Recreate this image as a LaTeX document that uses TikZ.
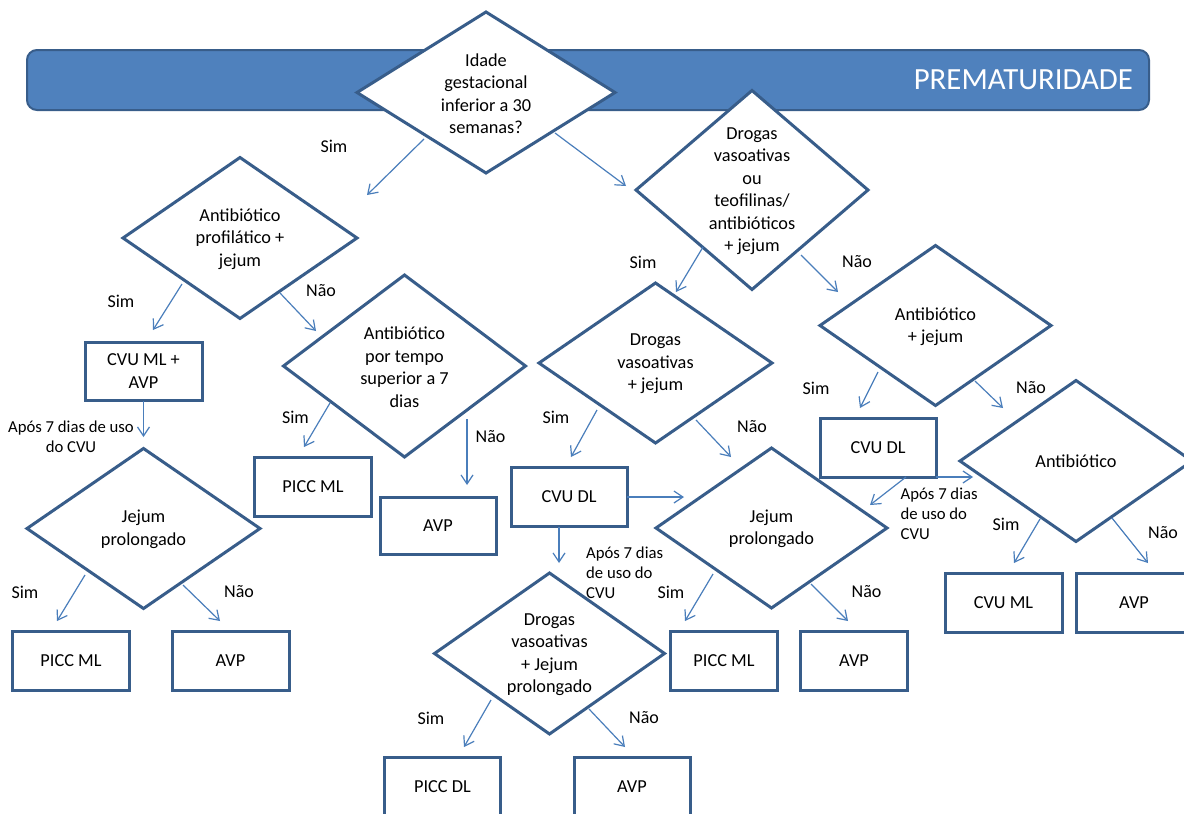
\documentclass[tikz,border=0pt]{standalone}
\usepackage{fontspec}
\setmainfont{Carlito}
\usetikzlibrary{shapes.geometric,arrows.meta}
\definecolor{bord}{HTML}{385D8A}
\definecolor{bann}{HTML}{4F81BD}
\definecolor{arrc}{HTML}{4A7EBB}
\tikzset{
  banner/.style={rectangle, draw=bord, line width=2pt, fill=bann, rounded corners=10pt, inner sep=0pt},
  dia/.style={diamond, draw=bord, line width=3pt, fill=white, inner sep=0pt, outer sep=0pt},
  boxn/.style={rectangle, draw=bord, line width=3pt, fill=white, inner sep=0pt, align=center, font=\fontsize{18.3}{22.5}\selectfont},
  txt/.style={align=center, inner sep=0pt, font=\fontsize{18.3}{22.5}\selectfont},
  lbl/.style={inner sep=0pt, font=\fontsize{18}{22}\selectfont},
  note/.style={inner sep=0pt, font=\fontsize{16.7}{20}\selectfont},
  arr/.style={draw=arrc, line width=1.2pt, -{Straight Barb[length=9pt,width=12pt]}},
}
\begin{document}
\begin{tikzpicture}[x=1pt,y=-1pt]
\useasboundingbox (0,0) rectangle (1184,814);
\clip (0,0) rectangle (1184,814);
\fill[white] (0,0) rectangle (1184,814);

% banner
\node[banner, minimum width=1122pt, minimum height=60pt] (ban) at (588,80) {};
\node[inner sep=0pt, anchor=east, text=white, font=\fontsize{30.8}{36}\selectfont] (title) at (1133,80) {PREMATURIDADE};

% diamonds
\node[dia, minimum width=258pt, minimum height=161pt] (d1) at (486,92.5) {};
\node[txt] (d1t) at ([yshift=-1pt]d1.center) {Idade\\gestacional\\inferior a 30\\semanas?};

\node[dia, minimum width=234pt, minimum height=161pt] (d2) at (240,238) {};
\node[txt] (d2t) at ([yshift=-1pt]d2.center) {Antibiótico\\profilático +\\jejum};

\node[dia, minimum width=233pt, minimum height=160pt] (d3) at (143.5,528.5) {};
\node[txt] (d3t) at ([yshift=-1pt]d3.center) {Jejum\\prolongado};

\node[dia, minimum width=242pt, minimum height=182pt] (d4) at (404.5,366) {};
\node[txt] (d4t) at ([yshift=-1pt]d4.center) {Antibiótico\\por tempo\\superior a 7\\dias};

\node[dia, minimum width=232pt, minimum height=199pt] (d5) at (752,190) {};
\node[txt] (d5t) at ([yshift=-1pt]d5.center) {Drogas\\vasoativas\\ou\\teofilinas/\\antibióticos\\+ jejum};

\node[dia, minimum width=231pt, minimum height=160pt] (d6) at (935.5,325.5) {};
\node[txt] (d6t) at ([yshift=-1pt]d6.center) {Antibiótico\\+ jejum};

\node[dia, minimum width=232pt, minimum height=161pt] (d7) at (1076,461) {};
\node[txt] (d7t) at (d7.center) {Antibiótico};

\node[dia, minimum width=233pt, minimum height=160pt] (d8) at (655.5,363) {};
\node[txt] (d8t) at ([yshift=-1pt]d8.center) {Drogas\\vasoativas\\+ jejum};

\node[dia, minimum width=231pt, minimum height=160pt] (d9) at (771.5,528) {};
\node[txt] (d9t) at ([yshift=-1pt]d9.center) {Jejum\\prolongado};

\node[dia, minimum width=230pt, minimum height=161pt] (d10) at (549.5,653.5) {};
\node[txt] (d10t) at ([yshift=-1pt]d10.center) {Drogas\\vasoativas\\+ Jejum\\prolongado};

% boxes
\node[boxn, minimum width=117pt, minimum height=58pt] (b1) at (143.5,371) {CVU ML +\\AVP};
\node[boxn, minimum width=117pt, minimum height=59pt] (b2) at (71,661) {PICC ML};
\node[boxn, minimum width=117pt, minimum height=59pt] (b3) at (230.5,661) {AVP};
\node[boxn, minimum width=116.5pt, minimum height=59pt] (b4) at (313,486.5) {PICC ML};
\node[boxn, minimum width=116pt, minimum height=57pt] (b5) at (438,525.5) {AVP};
\node[boxn, minimum width=116pt, minimum height=59pt] (b6) at (569,496.5) {CVU DL};
\node[boxn, minimum width=106.5pt, minimum height=59pt] (b7) at (724,660.5) {PICC ML};
\node[boxn, minimum width=107.5pt, minimum height=59pt] (b8) at (854,660.5) {AVP};
\node[boxn, minimum width=116pt, minimum height=59pt] (b9) at (878,447.5) {CVU DL};
\node[boxn, minimum width=117pt, minimum height=59pt] (b10) at (1003.5,602.5) {CVU ML};
\node[boxn, minimum width=116pt, minimum height=59pt] (b11) at (1134,602.5) {AVP};
\node[boxn, minimum width=116.5pt, minimum height=60pt] (b12) at (442.5,787) {PICC DL};
\node[boxn, minimum width=116pt, minimum height=60pt] (b13) at (632,787) {AVP};

% connector end points
\coordinate (c1s) at (424,139);   \coordinate (c1e) at (367,195);
\coordinate (c2s) at (555,133);   \coordinate (c2e) at (626,186);
\coordinate (c3s) at (182,284);   \coordinate (c3e) at (153,330);
\coordinate (c4s) at (280,293);   \coordinate (c4e) at (316,331);
\coordinate (c5s) at (143.5,401); \coordinate (c5e) at (143.5,437);
\coordinate (c6s) at (85,575);    \coordinate (c6e) at (57,621);
\coordinate (c7s) at (183,585);   \coordinate (c7e) at (220,621);
\coordinate (c8s) at (330,403);   \coordinate (c8e) at (304,447);
\coordinate (c9s) at (467,419);   \coordinate (c9e) at (467,485);
\coordinate (c10s) at (703,247);  \coordinate (c10e) at (676,292);
\coordinate (c11s) at (801,255);  \coordinate (c11e) at (838,292);
\coordinate (c12s) at (597,410);  \coordinate (c12e) at (571,457);
\coordinate (c13s) at (696,420);  \coordinate (c13e) at (731,457);
\coordinate (c14s) at (627,497);  \coordinate (c14e) at (684,497);
\coordinate (c15s) at (559,527);  \coordinate (c15e) at (559,563);
\coordinate (c16s) at (713,574);  \coordinate (c16e) at (685,621);
\coordinate (c17s) at (811,584);  \coordinate (c17e) at (848,621);
\coordinate (c18s) at (878,372);  \coordinate (c18e) at (860,408);
\coordinate (c19s) at (975,381);  \coordinate (c19e) at (1003,408);
\coordinate (c20s) at (936,477);  \coordinate (c20e) at (973,477);
\coordinate (c21s) at (906,477);  \coordinate (c21e) at (870,505);
\coordinate (c22s) at (1040,519); \coordinate (c22e) at (1014,563);
\coordinate (c23s) at (1112,518); \coordinate (c23e) at (1148,563);
\coordinate (c24s) at (491,700);  \coordinate (c24e) at (464,747);
\coordinate (c25s) at (589,709);  \coordinate (c25e) at (625,747);

\foreach \i in {1,...,25} { \draw[arr] (c\i s) -- (c\i e); }

% labels
\node[lbl] (l1) at (334,146) {Sim};
\node[lbl] (l2) at (121,301) {Sim};
\node[lbl] (l3) at (321,291) {Não};
\node[note, align=center] (n1) at (71,437) {Após 7 dias de uso\\do CVU};
\node[lbl] (l4) at (25,592) {Sim};
\node[lbl] (l5) at (239,592) {Não};
\node[lbl] (l6) at (295.5,417) {Sim};
\node[lbl] (l7) at (490.5,437) {Não};
\node[lbl] (l8) at (643,262) {Sim};
\node[lbl] (l9) at (857,262) {Não};
\node[lbl] (l10) at (556,417) {Sim};
\node[lbl] (l11) at (752,427) {Não};
\node[note, align=left, anchor=west] (n2) at (586,573) {Após 7 dias\\de uso do\\CVU};
\node[lbl] (l12) at (671,592) {Sim};
\node[lbl] (l13) at (866.5,592) {Não};
\node[lbl] (l14) at (816,388) {Sim};
\node[lbl] (l15) at (1031,388) {Não};
\node[note, align=left, anchor=west] (n3) at (900.5,514) {Após 7 dias\\de uso do\\CVU};
\node[lbl] (l16) at (1006,524) {Sim};
\node[lbl] (l17) at (1163,533) {Não};
\node[lbl] (l18) at (431,718) {Sim};
\node[lbl] (l19) at (644,718) {Não};
\end{tikzpicture}
\end{document}
